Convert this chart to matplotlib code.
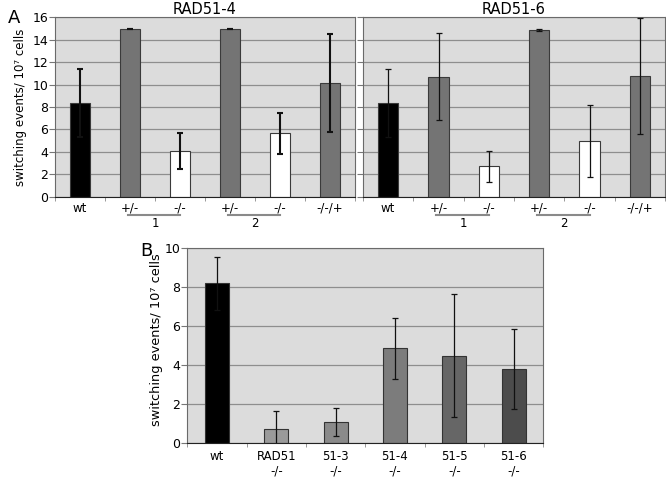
import matplotlib
matplotlib.use("Agg")
import matplotlib.pyplot as plt
import matplotlib.transforms as mtransforms
import numpy as np

# ---- data ----
a_cats = ["wt", "+/-", "-/-", "+/-", "-/-", "-/-/+"]
a_colors = ["#000000", "#747474", "#ffffff", "#747474", "#ffffff", "#747474"]
rad51_4_vals = [8.35, 15.0, 4.05, 15.0, 5.65, 10.15]
rad51_4_err = [3.05, 0.0, 1.6, 0.0, 1.8, 4.4]
rad51_6_vals = [8.35, 10.7, 2.7, 14.85, 4.95, 10.75]
rad51_6_err = [3.05, 3.9, 1.4, 0.08, 3.2, 5.2]
a_groups = ["1", "2"]

b_cats = ["wt", "RAD51\n-/-", "51-3\n-/-", "51-4\n-/-", "51-5\n-/-", "51-6\n-/-"]
b_vals = [8.2, 0.7, 1.07, 4.87, 4.48, 3.8]
b_err = [1.35, 0.93, 0.7, 1.57, 3.18, 2.07]
b_colors = ["#000000", "#9a9a9a", "#8a8a8a", "#7c7c7c", "#666666", "#4c4c4c"]

ylabel = "switching events/ 10\u2077 cells"
BG = "#dcdcdc"
GRID = "#8e8e8e"

fig = plt.figure(figsize=(6.66, 4.8), dpi=100)
fig.patch.set_facecolor("white")


def style_axes(ax, ymax, ystep, ncat, labels, show_ylabels=True, xfs=8.5):
    ax.set_facecolor(BG)
    ax.set_xlim(-0.5, ncat - 0.5)
    ax.set_ylim(0, ymax)
    ax.set_yticks(np.arange(0, ymax + 0.01, ystep))
    ax.yaxis.grid(True, color=GRID, lw=0.9)
    ax.set_axisbelow(True)
    for s in ax.spines.values():
        s.set_color("#6a6a6a")
        s.set_linewidth(0.8)
    ax.spines["bottom"].set_color("#222222")
    ax.set_xticks(np.arange(ncat))
    ax.set_xticklabels(labels, fontsize=xfs)
    ax.set_xticks(np.arange(-0.5, ncat, 1.0), minor=True)
    ax.tick_params(axis="x", which="major", length=0, pad=3.5)
    ax.tick_params(axis="x", which="minor", length=3, color="#888888")
    ax.tick_params(axis="y", length=4, color="#777777", labelsize=9, pad=1)
    if not show_ylabels:
        ax.set_yticklabels([])


def draw_panel_a(ax, vals, errs, title, elw, show_ylabels):
    x = np.arange(len(a_cats))
    ax.bar(x, vals, width=0.4, color=a_colors, edgecolor="#3a3a3a", linewidth=0.8, zorder=2)
    ax.errorbar(x, vals, yerr=errs, fmt="none", ecolor="#111111", elinewidth=elw,
                capsize=1.9, capthick=elw, zorder=3)
    style_axes(ax, 16, 2, len(a_cats), a_cats, show_ylabels)
    ax.set_title(title, fontsize=10.5, pad=2)
    trans = mtransforms.blended_transform_factory(ax.transData, ax.transAxes)
    for i, g in enumerate(a_groups):
        x0 = 1 + 2 * i
        ax.plot([x0 - 0.05, x0 + 1.0], [-0.102, -0.102], color="#8a8a8a", lw=1.5,
                transform=trans, clip_on=False)
        ax.text(x0 + 0.5, -0.152, g, transform=trans, ha="center", va="center", fontsize=8.5)


axA1 = fig.add_axes([55 / 666, 1 - 196.7 / 480, 300 / 666, 179.4 / 480])
draw_panel_a(axA1, rad51_4_vals, rad51_4_err, "RAD51-4", 1.5, True)
axA1.set_ylabel(ylabel, fontsize=8.5)
axA1.yaxis.set_label_coords(-0.092, 0.5)

axA2 = fig.add_axes([363 / 666, 1 - 196.7 / 480, 302 / 666, 179.4 / 480])
draw_panel_a(axA2, rad51_6_vals, rad51_6_err, "RAD51-6", 0.9, False)

axB = fig.add_axes([187.3 / 666, 1 - 442.7 / 480, 356 / 666, 194.4 / 480])
xb = np.arange(len(b_cats))
axB.bar(xb, b_vals, width=0.4, color=b_colors, edgecolor="#333333", linewidth=0.8, zorder=2)
axB.errorbar(xb, b_vals, yerr=b_err, fmt="none", ecolor="#111111", elinewidth=0.9,
             capsize=2.2, capthick=0.9, zorder=3)
style_axes(axB, 10, 2, len(b_cats), b_cats, xfs=8.5)
axB.tick_params(axis="x", which="major", pad=5)
axB.set_ylabel(ylabel, fontsize=9.3)
axB.yaxis.set_label_coords(-0.068, 0.53)

fig.text(140 / 666, 1 - 251 / 480, "B", fontsize=13, ha="left", va="center")
fig.text(8 / 666, 1 - 18 / 480, "A", fontsize=13, ha="left", va="center")

fig.savefig("out.png", dpi=100, facecolor="white")
